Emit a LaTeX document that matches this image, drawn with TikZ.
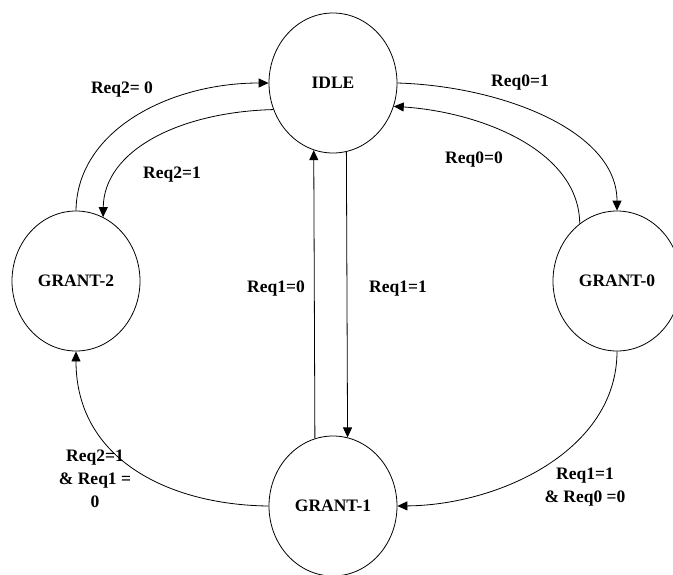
\documentclass[tikz,border=0pt]{standalone}
\usepackage{fontspec}
\setmainfont{Liberation Serif}
\usetikzlibrary{shapes.geometric,arrows.meta}

\begin{document}
\begin{tikzpicture}[x=1pt,y=-1pt,
  state/.style={draw, ellipse, line width=0.8pt, minimum width=128pt, minimum height=140pt, inner sep=0pt,
    font=\bfseries\fontsize{17.5}{23}\selectfont},
  lbl/.style={align=center, inner sep=0pt, font=\bfseries\fontsize{17.5}{23}\selectfont},
  edge/.style={line width=0.8pt, -{Triangle[length=10pt,width=9pt]}}]
  \useasboundingbox (0,0) rectangle (673,574);

  % states
  \node[state] (idle) at (333,83)  {IDLE};
  \node[state] (g2)   at (76,281)  {GRANT-2};
  \node[state] (g0)   at (617,281) {GRANT-0};
  \node[state] (g1)   at (333,506) {GRANT-1};

  % transitions between IDLE and GRANT-2
  \draw[edge] (g2.90) .. controls (77,130) and (170,83) .. (idle.180);
  \draw[edge] (idle.204) .. controls (180,112) and (104,150) .. (g2.67);

  % transitions between IDLE and GRANT-0
  \draw[edge] (idle.0) .. controls (500,86) and (617,130) .. (g0.90);
  \draw[edge] (g0.123) .. controls (579,150) and (480,112) .. (idle.339);

  % transitions between IDLE and GRANT-1
  \draw[edge] (idle.281.6) -- (g1.78.4);
  \draw[edge] (g1.105.9) -- (idle.254.1);

  % GRANT-0 -> GRANT-1 -> GRANT-2
  \draw[edge] (g0.270) .. controls (617,450) and (500,505) .. (g1.0);
  \draw[edge] (g1.180) .. controls (170,505) and (76,460) .. (g2.270);

  % conditions
  \node[lbl] (l1) at (122,90)  {Req2= 0};
  \node[lbl] (l2) at (172,175) {Req2=1};
  \node[lbl] (l3) at (520,83)  {Req0=1};
  \node[lbl] (l4) at (474,160) {Req0=0};
  \node[lbl] (l5) at (276,289) {Req1=0};
  \node[lbl] (l6) at (398,289) {Req1=1};
  \node[lbl] (l7) at (95,479)  {Req2=1\\\& Req1 =\\0};
  \node[lbl] (l8) at (585,487) {Req1=1\\\& Req0 =0};
\end{tikzpicture}
\end{document}
